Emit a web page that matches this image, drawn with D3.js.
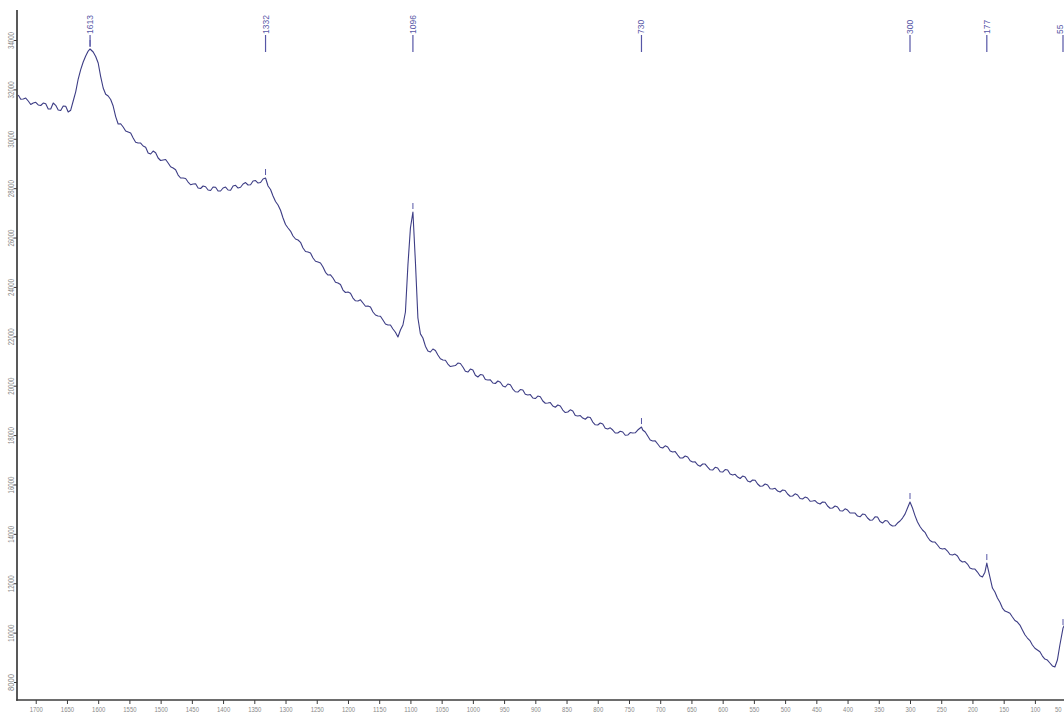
<!DOCTYPE html>
<html>
<head>
<meta charset="utf-8">
<script src="https://cdn.jsdelivr.net/npm/d3@7"></script>
<style>
  html, body { margin: 0; padding: 0; background: #ffffff; overflow: hidden; }
  svg { display: block; }
</style>
</head>
<body>
<svg id="chart" width="1064" height="713"></svg>
<script>
// Raman shift (cm-1), high to low as plotted left to right
const ramanShift = [
  1728, 1724, 1720, 1716, 1712, 1708, 1704, 1700, 1696, 1692,
  1688, 1684, 1680, 1676, 1672, 1668, 1664, 1660, 1656, 1652,
  1648, 1644, 1640, 1636, 1632, 1628, 1624, 1620, 1616, 1613,
  1608, 1604, 1600, 1596, 1592, 1588, 1584, 1580, 1576, 1572,
  1568, 1564, 1560, 1556, 1552, 1548, 1544, 1540, 1536, 1532,
  1528, 1524, 1520, 1516, 1512, 1508, 1504, 1500, 1496, 1492,
  1488, 1484, 1480, 1476, 1472, 1468, 1464, 1460, 1456, 1452,
  1448, 1444, 1440, 1436, 1432, 1428, 1424, 1420, 1416, 1412,
  1408, 1404, 1400, 1396, 1392, 1388, 1384, 1380, 1376, 1372,
  1368, 1364, 1360, 1356, 1352, 1348, 1344, 1340, 1336, 1332,
  1328, 1324, 1320, 1316, 1312, 1308, 1304, 1300, 1296, 1292,
  1288, 1284, 1280, 1276, 1272, 1268, 1264, 1260, 1256, 1252,
  1248, 1244, 1240, 1236, 1232, 1228, 1224, 1220, 1216, 1212,
  1208, 1204, 1200, 1196, 1192, 1188, 1184, 1180, 1176, 1172,
  1168, 1164, 1160, 1156, 1152, 1148, 1144, 1140, 1136, 1132,
  1128, 1124, 1120, 1116, 1112, 1108, 1104, 1100, 1096, 1092,
  1088, 1084, 1080, 1076, 1072, 1068, 1064, 1060, 1056, 1052,
  1048, 1044, 1040, 1036, 1032, 1028, 1024, 1020, 1016, 1012,
  1008, 1004, 1000, 996, 992, 988, 984, 980, 976, 972,
  968, 964, 960, 956, 952, 948, 944, 940, 936, 932,
  928, 924, 920, 916, 912, 908, 904, 900, 896, 892,
  888, 884, 880, 876, 872, 868, 864, 860, 856, 852,
  848, 844, 840, 836, 832, 828, 824, 820, 816, 812,
  808, 804, 800, 796, 792, 788, 784, 780, 776, 772,
  768, 764, 760, 756, 752, 748, 744, 740, 736, 730,
  728, 724, 720, 716, 712, 708, 704, 700, 696, 692,
  688, 684, 680, 676, 672, 668, 664, 660, 656, 652,
  648, 644, 640, 636, 632, 628, 624, 620, 616, 612,
  608, 604, 600, 596, 592, 588, 584, 580, 576, 572,
  568, 564, 560, 556, 552, 548, 544, 540, 536, 532,
  528, 524, 520, 516, 512, 508, 504, 500, 496, 492,
  488, 484, 480, 476, 472, 468, 464, 460, 456, 452,
  448, 444, 440, 436, 432, 428, 424, 420, 416, 412,
  408, 404, 400, 396, 392, 388, 384, 380, 376, 372,
  368, 364, 360, 356, 352, 348, 344, 340, 336, 332,
  328, 324, 320, 316, 312, 308, 304, 300, 296, 292,
  288, 284, 280, 276, 272, 268, 264, 260, 256, 252,
  248, 244, 240, 236, 232, 228, 224, 220, 216, 212,
  208, 204, 200, 196, 192, 188, 184, 180, 177, 176,
  172, 168, 164, 160, 156, 152, 148, 144, 140, 136,
  132, 128, 124, 120, 116, 112, 108, 104, 100, 96,
  92, 88, 84, 80, 76, 72, 68, 64, 60, 55,
  48
];

// Measured intensity (counts) at each Raman shift
const intensity = [
  31772, 31601, 31610, 31650, 31530, 31389, 31448, 31478, 31368, 31348,
  31448, 31417, 31206, 31207, 31448, 31356, 31165, 31146, 31327, 31316,
  31084, 31157, 31530, 31900, 32420, 32800, 33109, 33350, 33554, 33636,
  33514, 33330, 33068, 32520, 32056, 31800, 31732, 31590, 31327, 30900,
  30598, 30607, 30476, 30315, 30274, 30232, 30031, 29860, 29828, 29827,
  29707, 29655, 29424, 29384, 29504, 29432, 29221, 29120, 29140, 29159,
  29018, 28867, 28816, 28744, 28532, 28411, 28411, 28390, 28249, 28138,
  28168, 28177, 28006, 27986, 28087, 28056, 27925, 27905, 28046, 28035,
  27884, 27885, 28006, 28045, 27925, 27916, 28087, 28116, 28006, 28037,
  28168, 28228, 28128, 28139, 28290, 28309, 28208, 28229, 28370, 28411,
  28087, 27945, 27682, 27460, 27318, 27105, 26791, 26528, 26386, 26264,
  26062, 25941, 25900, 25808, 25576, 25435, 25414, 25372, 25171, 25040,
  25009, 24967, 24806, 24594, 24482, 24491, 24361, 24190, 24158, 24096,
  23875, 23774, 23794, 23742, 23551, 23440, 23430, 23479, 23348, 23217,
  23227, 23185, 22984, 22863, 22822, 22811, 22660, 22499, 22458, 22457,
  22296, 22164, 21972, 22255, 22458, 22984, 24888, 26386, 27034, 25009,
  22741, 22100, 21931, 21600, 21404, 21365, 21486, 21424, 21242, 21091,
  21040, 21029, 20878, 20777, 20797, 20817, 20918, 20897, 20756, 20585,
  20554, 20674, 20635, 20423, 20352, 20452, 20432, 20251, 20230, 20239,
  20108, 20089, 20190, 20138, 19987, 19947, 20068, 20037, 19866, 19755,
  19744, 19844, 19825, 19653, 19622, 19641, 19501, 19481, 19582, 19551,
  19380, 19289, 19298, 19317, 19177, 19127, 19218, 19176, 19015, 18914,
  18934, 19024, 18974, 18793, 18772, 18791, 18691, 18641, 18732, 18710,
  18529, 18418, 18408, 18488, 18448, 18277, 18246, 18295, 18205, 18084,
  18084, 18154, 18124, 17993, 18002, 18103, 18084, 18094, 18205, 18326,
  18205, 18123, 17962, 17801, 17760, 17769, 17638, 17507, 17476, 17566,
  17516, 17355, 17314, 17333, 17192, 17071, 17071, 17151, 17112, 16960,
  16909, 16918, 16788, 16738, 16828, 16827, 16706, 16595, 16585, 16695,
  16666, 16515, 16504, 16604, 16585, 16423, 16382, 16412, 16302, 16242,
  16342, 16301, 16140, 16100, 16180, 16169, 16018, 15927, 15937, 16017,
  15978, 15827, 15816, 15845, 15734, 15694, 15775, 15754, 15613, 15522,
  15532, 15622, 15572, 15431, 15410, 15490, 15451, 15320, 15330, 15349,
  15248, 15208, 15289, 15278, 15127, 15036, 15046, 15126, 15086, 14935,
  14924, 15014, 14965, 14844, 14844, 14843, 14722, 14692, 14803, 14782,
  14641, 14550, 14560, 14691, 14682, 14500, 14438, 14539, 14520, 14378,
  14317, 14327, 14438, 14520, 14641, 14800, 15046, 15289, 15046, 14740,
  14479, 14300, 14155, 14063, 13872, 13730, 13669, 13668, 13548, 13417,
  13386, 13405, 13304, 13163, 13142, 13182, 13102, 12930, 12859, 12878,
  12778, 12617, 12576, 12575, 12454, 12303, 12252, 12450, 12818, 12697,
  12250, 11806, 11643, 11401, 11228, 10996, 10875, 10834, 10783, 10632,
  10490, 10429, 10307, 10105, 9913, 9781, 9679, 9498, 9366, 9295,
  9223, 9052, 8931, 8890, 8770, 8650, 8606, 8890, 9500, 10186,
  10510
];

// Picked peak positions (cm-1)
const peakLabels = [1613, 1332, 1096, 730, 300, 177, 55];

// Axis tick values
const xTickValues = [1700, 1650, 1600, 1550, 1500, 1450, 1400, 1350, 1300, 1250, 1200, 1150, 1100,
  1050, 1000, 950, 900, 850, 800, 750, 700, 650, 600, 550, 500, 450, 400, 350, 300, 250, 200, 150, 100, 50];
const yTickValues = [8000, 10000, 12000, 14000, 16000, 18000, 20000, 22000, 24000, 26000, 28000,
  30000, 32000, 34000];

const spectrum = d3.zip(ramanShift, intensity).map(([s, v]) => ({ shift: s, value: v }));

const svg = d3.select("#chart");
const width = 1064;
const axisColor = "#3c3c3c";
const tickTextColor = "#8a8a8a";
const lineColor = "#3d3d85";
const peakColor = "#5656a6";
const font = "'Liberation Sans', Arial, sans-serif";

const plotLeft = 17, plotRight = width, baseY = 700, plotTop = 10;

const x = d3.scaleLinear().domain([1730, 53.4]).range([plotLeft, plotRight]);
const y = d3.scaleLinear().domain([7300, 35620]).range([699.3, 0]);

// Bottom axis: Raman shift
const xAxis = svg.append("g")
  .attr("transform", `translate(0,${baseY})`)
  .call(d3.axisBottom(x).tickValues(xTickValues).tickSize(4).tickPadding(2).tickFormat(d3.format("d")));
xAxis.select(".domain").remove();
xAxis.selectAll(".tick line").attr("stroke", axisColor).attr("stroke-width", 1);
xAxis.selectAll(".tick text")
  .attr("fill", tickTextColor)
  .attr("font-family", font)
  .attr("font-size", 8)
  .attr("textLength", d => String(d).length * 3.3)
  .attr("lengthAdjust", "spacingAndGlyphs");
// the last label would run past the right edge: right-align it inside the frame
xAxis.selectAll(".tick text")
  .filter(d => x(d) + 6 > width)
  .attr("text-anchor", "end")
  .attr("x", d => (width - 3) - x(d));

// Left axis: intensity, labels turned upright
const yAxis = svg.append("g")
  .attr("transform", `translate(${plotLeft},0)`)
  .call(d3.axisLeft(y).tickValues(yTickValues).tickSize(3).tickFormat(d3.format("d")));
yAxis.select(".domain").remove();
yAxis.selectAll(".tick line").attr("stroke", axisColor).attr("stroke-width", 1);
yAxis.selectAll(".tick text")
  .attr("fill", tickTextColor)
  .attr("font-family", font)
  .attr("font-size", 9)
  .attr("text-anchor", "middle")
  .attr("dy", null)
  .attr("x", 0)
  .attr("y", -3)
  .attr("transform", "rotate(-90)")
  .attr("textLength", 17)
  .attr("lengthAdjust", "spacingAndGlyphs");

// Axis frame lines
svg.append("line")
  .attr("x1", plotLeft).attr("x2", plotLeft)
  .attr("y1", plotTop).attr("y2", baseY + 0.8)
  .attr("stroke", axisColor).attr("stroke-width", 1.7);
svg.append("line")
  .attr("x1", plotLeft - 0.8).attr("x2", plotRight)
  .attr("y1", baseY).attr("y2", baseY)
  .attr("stroke", axisColor).attr("stroke-width", 1.7);

// Spectrum trace
const line = d3.line().x(d => x(d.shift)).y(d => y(d.value));
svg.append("path")
  .datum(spectrum)
  .attr("d", line)
  .attr("fill", "none")
  .attr("stroke", lineColor)
  .attr("stroke-width", 1.1)
  .attr("stroke-linejoin", "round");

// Peak markers: small tick above each peak plus a labelled flag at the top
const peakGroup = svg.append("g");
peakLabels.forEach(p => {
  const pt = spectrum.find(d => d.shift === p);
  const px = x(p), py = y(pt.value);
  peakGroup.append("line")
    .attr("x1", px).attr("x2", px)
    .attr("y1", py - 3).attr("y2", py - 9)
    .attr("stroke", peakColor).attr("stroke-width", 1);
  peakGroup.append("line")
    .attr("x1", px).attr("x2", px)
    .attr("y1", 35).attr("y2", Math.min(52, py - 2))
    .attr("stroke", peakColor).attr("stroke-width", 1.2);
  peakGroup.append("text")
    .attr("transform", `translate(${Math.min(px + 3, width - 1)},34) rotate(-90)`)
    .attr("text-anchor", "start")
    .attr("font-family", font)
    .attr("font-size", 8.5)
    .attr("fill", peakColor)
    .text(p);
});
</script>
</body>
</html>
